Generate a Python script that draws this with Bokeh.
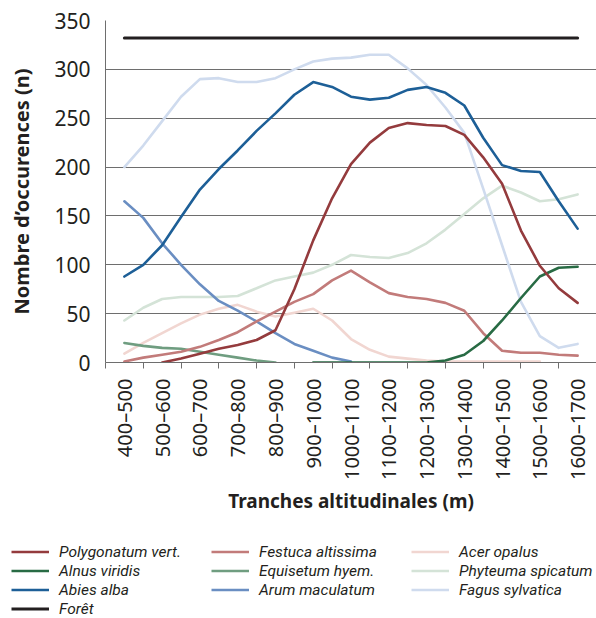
import numpy as np
from bokeh.plotting import figure
from bokeh.models import Range1d, FixedTicker, Legend, LegendItem
from bokeh.embed import file_html
from bokeh.resources import INLINE

categories = ["400–500", "500–600", "600–700", "700–800", "800–900", "900–1000",
              "1000–1100", "1100–1200", "1200–1300", "1300–1400", "1400–1500",
              "1500–1600", "1600–1700"]
y_ticks = [0, 50, 100, 150, 200, 250, 300, 350]

# values read every half altitude band (25 readings from 400–500 to 1600–1700)
polygonatum = [None, None, 0, 4, 9, 14, 18, 23, 33, 75, 125, 168, 203, 225, 240, 245,
               243, 242, 233, 210, 183, 135, 99, 76, 61]
alnus = [None] * 10 + [0, 0, 0, 0, 0, 0, 0, 2, 8, 22, 43, 66, 88, 97, 98]
abies = [88, 100, 120, 149, 177, 198, 217, 237, 255, 274, 287, 282, 272, 269, 271, 279,
         282, 276, 263, 230, 202, 196, 195, 165, 137]
foret = [332] * 25
festuca = [1, 5, 8, 11, 16, 23, 31, 42, 52, 62, 70, 84, 94, 82, 71, 67, 65, 61, 53, 30,
           12, 10, 10, 8, 7]
equisetum = [20, 17, 15, 14, 11, 8, 5, 2, 0] + [None] * 16
arum = [165, 148, 122, 100, 80, 63, 53, 42, 30, 19, 12, 5, 1] + [None] * 12
acer = [9, 20, 30, 40, 49, 55, 59, 52, 47, 51, 55, 43, 24, 13, 6, 4, 2, 1, 1, 1, 1, 1, 1,
        None, None]
phyteuma = [43, 56, 65, 67, 67, 67, 68, 76, 84, 88, 92, 100, 110, 108, 107, 112, 122, 136,
            152, 168, 181, 174, 165, 167, 172]
fagus = [200, 222, 247, 272, 290, 291, 287, 287, 291, 300, 308, 311, 312, 315, 315, 301,
         284, 261, 235, 178, 120, 62, 27, 15, 19]

series = [
    ("Polygonatum vert.", polygonatum, "#943b3d"),
    ("Festuca altissima", festuca, "#c27b7a"),
    ("Acer opalus", acer, "#f1d6d1"),
    ("Alnus viridis", alnus, "#286b44"),
    ("Equisetum hyem.", equisetum, "#6f9d80"),
    ("Phyteuma spicatum", phyteuma, "#d4e3d7"),
    ("Abies alba", abies, "#1d5f97"),
    ("Arum maculatum", arum, "#6a8ec2"),
    ("Fagus sylvatica", fagus, "#cfdbee"),
    ("Forêt", foret, "#231f20"),
]

n = len(categories)
xs = [0.5 * (i + 1) for i in range(2 * n - 1)]
centers = [i + 0.5 for i in range(n)]
TXT = "#231f20"
FONT = "Noto Sans"
GRID = "#6e6e6e"

p = figure(width=596, height=542, output_backend="svg", toolbar_location=None,
           x_range=Range1d(0, n), y_range=Range1d(0, 350),
           min_border_left=105, min_border_right=0, min_border_top=20,
           min_border_bottom=180)
p.outline_line_color = None

p.xgrid.visible = False
p.ygrid.ticker = FixedTicker(ticks=y_ticks)
p.ygrid.grid_line_color = GRID
p.ygrid.grid_line_width = 1.2

ya = p.yaxis[0]
ya.ticker = FixedTicker(ticks=y_ticks)
ya.major_tick_out = 0
ya.major_tick_in = 0
ya.minor_tick_out = 0
ya.minor_tick_in = 0
ya.axis_line_color = GRID
ya.major_label_text_font = FONT
ya.major_label_text_font_size = "21px"
ya.major_label_text_color = TXT
ya.major_label_standoff = 15
ya.axis_label = "Nombre d’occurences (n)"
ya.axis_label_text_font = FONT
ya.axis_label_text_font_size = "20px"
ya.axis_label_text_font_style = "bold"
ya.axis_label_text_color = TXT
ya.axis_label_standoff = 16

xa = p.xaxis[0]
xa.ticker = FixedTicker(ticks=centers, minor_ticks=list(range(n + 1)))
xa.major_label_overrides = {c: lab for c, lab in zip(centers, categories)}
xa.major_tick_out = 0
xa.major_tick_in = 0
xa.minor_tick_out = 6
xa.minor_tick_in = 0
xa.minor_tick_line_color = GRID
xa.axis_line_color = GRID
xa.major_label_orientation = np.pi / 2
xa.major_label_text_font = FONT
xa.major_label_text_font_size = "20px"
xa.major_label_text_color = TXT
xa.major_label_standoff = 10
xa.axis_label = "Tranches altitudinales (m)"
xa.axis_label_text_font = FONT
xa.axis_label_text_font_size = "19px"
xa.axis_label_text_font_style = "bold"
xa.axis_label_text_color = TXT
xa.axis_label_standoff = 5

draw_order = ["Acer opalus", "Phyteuma spicatum", "Fagus sylvatica", "Equisetum hyem.",
              "Arum maculatum", "Festuca altissima", "Alnus viridis", "Polygonatum vert.",
              "Abies alba", "Forêt"]
for name in draw_order:
    vals, col = next((v, c) for nm, v, c in series if nm == name)
    y = np.array([np.nan if v is None else v for v in vals], dtype=float)
    p.line(xs, y, line_color=col, line_width=3 if name == "Forêt" else 2.6,
           line_join="round", line_cap="round")

# legend strip (separate root so that its frame is not aligned with the chart's)
lg = figure(width=596, height=76, output_backend="svg", toolbar_location=None,
            x_range=Range1d(0, 1), y_range=Range1d(0, 1),
            x_axis_type=None, y_axis_type=None,
            min_border_left=0, min_border_right=0, min_border_top=0, min_border_bottom=0)
lg.outline_line_color = None
lg.xgrid.visible = False
lg.ygrid.visible = False
items = []
for nm, _, col in series:
    r = lg.line([0.5], [np.nan], line_color=col, line_width=3 if nm == "Forêt" else 2.6)
    items.append(LegendItem(label=nm, renderers=[r]))
legend = Legend(items=items, orientation="horizontal", ncols=3, location=(11, 0),
                label_text_font="Roboto", label_text_font_style="italic",
                label_text_font_size="15.5px", label_text_color=TXT,
                glyph_width=38, glyph_height=19, label_standoff=10, spacing=0,
                label_height=19, label_width=152, padding=0, margin=0,
                border_line_color=None, background_fill_alpha=0)
lg.add_layout(legend)

open("out.html", "w").write(file_html([p, lg], INLINE))
